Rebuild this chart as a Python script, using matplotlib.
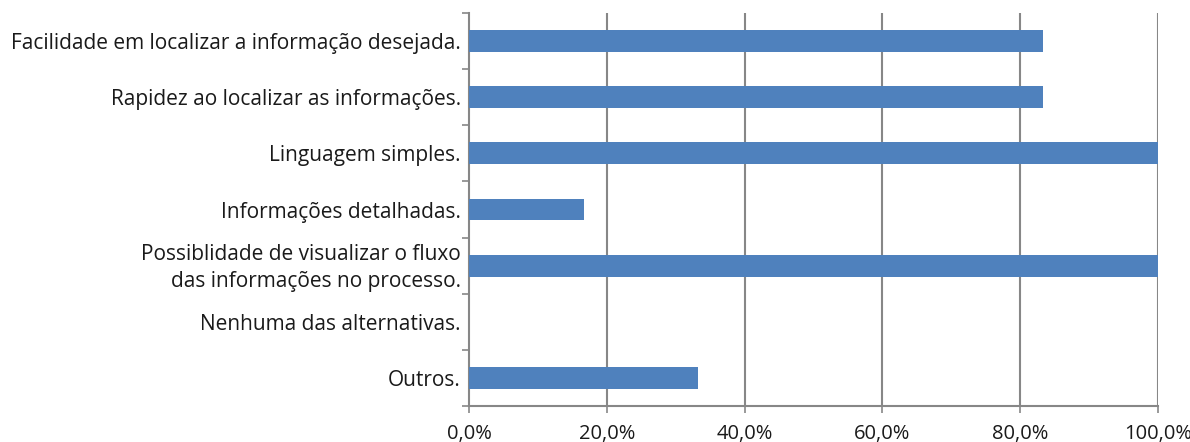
import matplotlib
matplotlib.use("Agg")
import matplotlib.pyplot as plt
import matplotlib.transforms as mtransforms
import numpy as np

categories = [
    "Facilidade em localizar a informação desejada.",
    "Rapidez ao localizar as informações.",
    "Linguagem simples.",
    "Informações detalhadas.",
    "Possiblidade de visualizar o fluxo\ndas informações no processo.",
    "Nenhuma das alternativas.",
    "Outros.",
]
values = [83.3, 83.3, 100.0, 16.7, 100.0, 0.0, 33.3]
xticks = [0, 20, 40, 60, 80, 100]
xtick_labels = ["0,0%", "20,0%", "40,0%", "60,0%", "80,0%", "100,0%"]

plt.rcParams['font.family'] = ['Open Sans', 'DejaVu Sans']
fig = plt.figure(figsize=(11.9, 4.42), dpi=100)
ax = fig.add_axes([469/1190, 1-406/442, (1158-469)/1190, (406-13)/442])

grid_c = "#878787"
y = np.arange(len(categories))
ax.barh(y, values, height=0.39, color="#4F81BD", zorder=3)
ax.set_xlim(0, 100)
ax.set_ylim(len(categories) - 0.5, -0.5)

for xv in xticks[1:]:
    ax.axvline(xv, color=grid_c, lw=1.5, zorder=1)

ax.set_xticks(xticks)
ax.set_xticklabels(xtick_labels, fontsize=14.5, color="#1a1a1a")
ax.set_yticks(np.arange(len(categories) + 1) - 0.5)
ax.set_yticklabels([])
ax.set_yticks(y, minor=True)
labels = ax.set_yticklabels(categories, minor=True, fontsize=15, color="#1a1a1a", ha="right", linespacing=1.35)
ax.tick_params(axis='y', which='minor', length=0, pad=6)
ax.tick_params(axis='y', which='major', length=5, width=1.2, color=grid_c, direction='out')
ax.tick_params(axis='x', length=5, width=1.2, color=grid_c, direction='out', pad=8)

# nudge the two-line label slightly upward
offset = mtransforms.ScaledTranslation(0, 3/100, fig.dpi_scale_trans)
for lab in labels:
    if "\n" in lab.get_text():
        lab.set_transform(lab.get_transform() + offset)

for s in ["top", "right"]:
    ax.spines[s].set_visible(False)
for s in ["left", "bottom"]:
    ax.spines[s].set_color(grid_c)
    ax.spines[s].set_linewidth(1.5)

fig.savefig("out.png", dpi=100)
